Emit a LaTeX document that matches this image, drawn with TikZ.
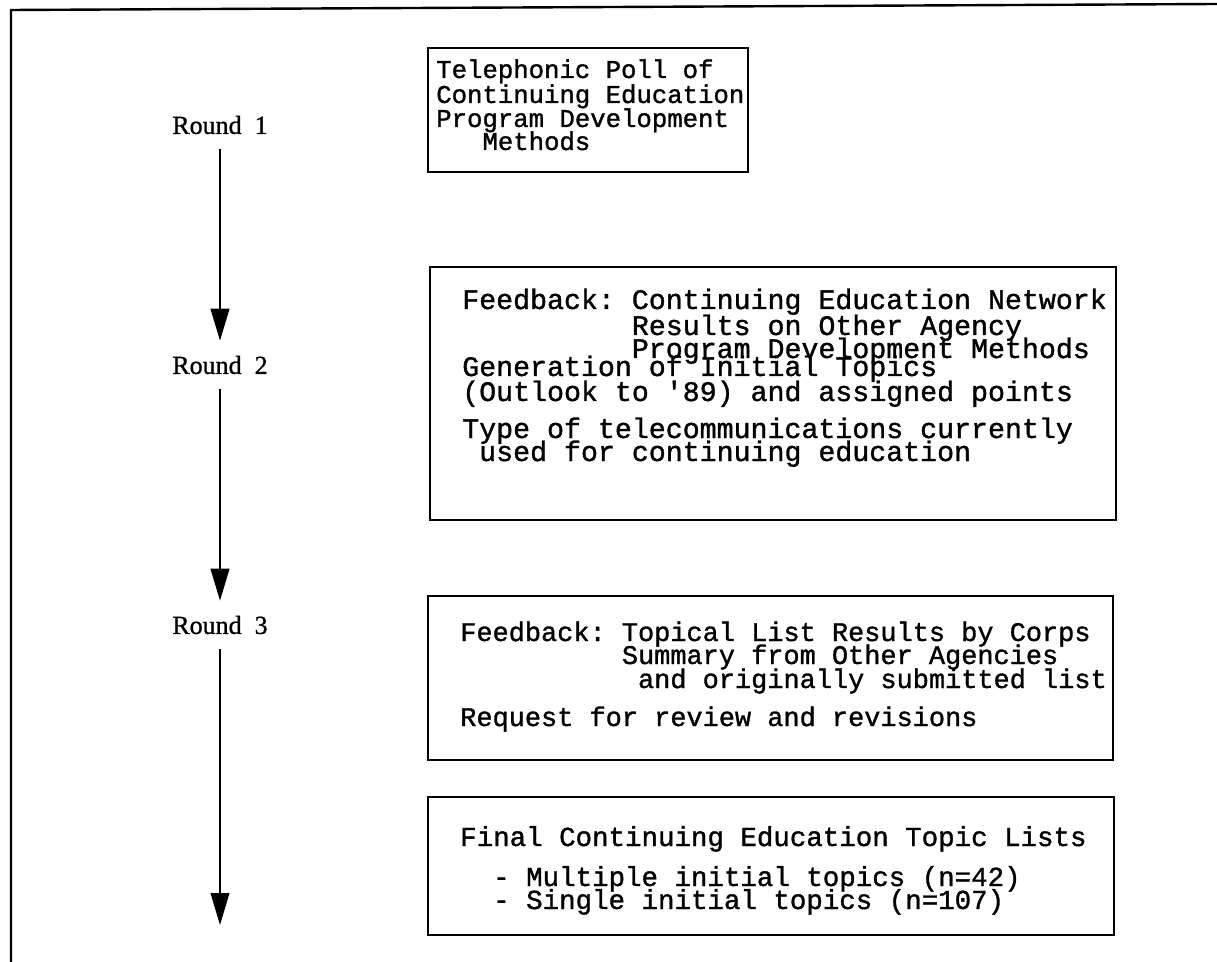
\documentclass[tikz,border=0pt]{standalone}
\usepackage{fontspec}
\setmainfont{Liberation Serif}
\newfontfamily\roundfont{Liberation Serif}[FakeBold=1]
\newfontfamily\typew{Liberation Mono}[FakeBold=1.2]
\usetikzlibrary{arrows.meta,fit}

\begin{document}
\frenchspacing
\begin{tikzpicture}[x=0.75pt,y=0.75pt,yscale=-1,xscale=1,
    roundlbl/.style={font=\roundfont\fontsize{19.5}{21}\selectfont, minimum height=36pt, inner sep=0pt},
    stage/.style={draw, line width=1.7pt, inner sep=0pt},
    tline/.style={anchor=base west, inner sep=0pt, font=\typew\fontsize{20.6}{22}\selectfont},
    flow/.style={line width=1.4pt, -{Triangle[width=14pt,length=24pt]}}]
    \useasboundingbox (0,0) rectangle (1217,962);
    % Frame
    \draw[line width=1.8pt] (11,962) -- (11,10) -- (1217,4);
    % Round labels
    \node[roundlbl] (r1) at (220,125) {Round\ \ 1};
    \node[roundlbl] (r2) at (220,365) {Round\ \ 2};
    \node[roundlbl] (r3) at (220,625) {Round\ \ 3};
    \coordinate (rend) at (220,925);
    % Arrows
    \draw[flow] (r1) -- (r2);
    \draw[flow] (r2) -- (r3);
    \draw[flow] (r3) -- (rend);
    % Box 1
    \node[stage, fit={(428,48) (748,172)}] (box1) {};
    \begin{scope}[tline/.append style={font=\typew\fontsize{19.25}{22}\selectfont}]
    \node[tline] (t1a) at (436,78) {Telephonic Poll of};
    \node[tline] (t1b) at (436,103) {Continuing Education};
    \node[tline] (t1c) at (436,127) {Program Development};
    \node[tline] (t1d) at (436,150) {\hphantom{Pro}Methods};
    \end{scope}
    % Box 2
    \node[stage, fit={(430,267) (1116,520)}] (box2) {};
    \begin{scope}[tline/.append style={font=\typew\fontsize{21.2}{22}\selectfont}]
    \node[tline] (t2a) at (462,309) {Feedback: Continuing Education Network};
    \node[tline] (t2b) at (462,335) {\hphantom{Feedback: }Results on Other Agency};
    \node[tline] (t2c) at (462,358) {\hphantom{Feedback: }Program Development Methods};
    \node[tline] (t2d) at (462,376) {Generation of Initial Topics};
    \node[tline] (t2e) at (462,401) {(Outlook to '89) and assigned points};
    \node[tline] (t2f) at (462,438) {Type of telecommunications currently};
    \node[tline] (t2g) at (462,461) {\hphantom{T}used for continuing education};
    \end{scope}
    % Box 3
    \node[stage, fit={(428,596) (1113,760)}] (box3) {};
    \begin{scope}[tline/.append style={font=\typew\fontsize{20.2}{22}\selectfont}]
    \node[tline] (t3a) at (460,641) {Feedback: Topical List Results by Corps};
    \node[tline] (t3b) at (460,664) {\hphantom{Feedback: }Summary from Other Agencies};
    \node[tline] (t3c) at (460,688) {\hphantom{Feedback: a}and originally submitted list};
    \node[tline] (t3d) at (460,726) {Request for review and revisions};
    \end{scope}
    % Box 4
    \node[stage, fit={(428,797) (1114,935)}] (box4) {};
    \node[tline] (t4a) at (460,846) {Final Continuing Education Topic Lists};
    \node[tline] (t4b) at (460,886) {\hphantom{Fi}- Multiple initial topics (n=42)};
    \node[tline] (t4c) at (460,909) {\hphantom{Fi}- Single initial topics (n=107)};
\end{tikzpicture}
\end{document}
